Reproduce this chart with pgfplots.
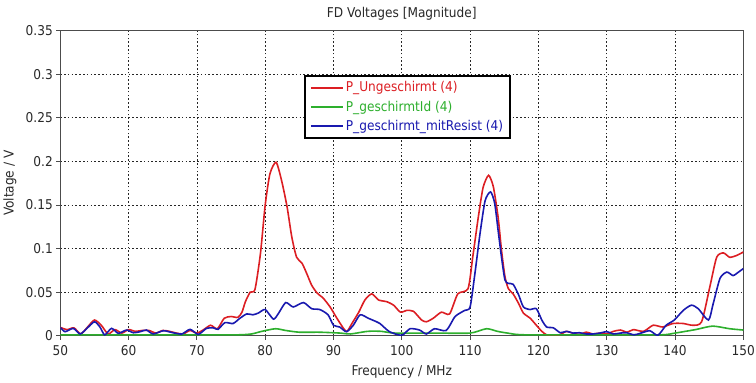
\documentclass[border=0pt]{standalone}
\usepackage{fontspec}
\setmainfont{DejaVu Sans Condensed}
\usepackage{pgfplots}
\pgfplotsset{compat=1.18}
\definecolor{cred}{RGB}{220,30,35}
\definecolor{cgreen}{RGB}{45,175,45}
\definecolor{cblue}{RGB}{25,25,175}
\definecolor{ctext}{RGB}{40,40,40}

\pgfplotstableread{
f v
50 0.0095
51 0.007
52 0.009
53 0.002
54 0.010
55 0.018
56 0.012
57 0.002
58 0.007
59 0.003
60 0.007
61 0.005
62 0.006
63 0.006
64 0.003
65 0.006
66 0.005
67 0.003
68 0.002
69 0.006
70 0.003
71 0.007
72 0.012
73 0.008
74 0.020
75 0.022
76 0.021
76.6 0.027
77.1 0.039
77.8 0.050
78.5 0.053
79.3 0.094
80 0.150
80.7 0.186
81.6 0.199
82.4 0.178
83.2 0.148
83.9 0.113
84.6 0.090
85.4 0.083
86.1 0.071
86.8 0.058
87.6 0.049
88.5 0.043
89.5 0.033
90.5 0.020
91.5 0.008
92 0.005
92.7 0.014
93.7 0.027
94.6 0.041
95.6 0.048
96.6 0.041
97.8 0.039
98.8 0.035
99.8 0.027
100.7 0.029
101.7 0.028
102.9 0.018
103.6 0.016
104.6 0.020
105.8 0.027
107 0.025
108.2 0.048
109.7 0.054
110.4 0.091
111.2 0.136
111.9 0.170
112.7 0.184
113.4 0.171
114.1 0.136
114.6 0.098
115.1 0.068
115.6 0.054
116.3 0.048
117.1 0.037
117.8 0.026
118.8 0.020
119.7 0.012
120.5 0.005
121.2 0.001
122 0.001
123.1 0.001
124.1 0.005
125 0.003
126 0.0015
127 0.004
128 0.002
129 0.003
130 0.002
131 0.005
132 0.0065
133 0.004
133.9 0.007
135.4 0.005
136.8 0.012
138.2 0.010
139.7 0.014
141.2 0.014
142.6 0.012
143.9 0.016
145.1 0.056
146.1 0.090
147.1 0.095
148 0.090
149 0.092
150 0.096
}\redtab

\pgfplotstableread{
f v
50 0.001
60 0.001
70 0.001
76 0.001
78 0.002
79.5 0.005
81.5 0.008
83 0.006
85 0.004
88 0.004
91 0.003
92.5 0.002
95 0.005
97 0.005
99 0.003
105 0.003
110 0.003
112.4 0.008
114 0.005
115.5 0.003
118 0.001
130 0.001
138 0.001
140 0.003
143 0.007
145.5 0.011
148 0.008
150 0.0065
}\greentab

\pgfplotstableread{
f v
50 0.0095
50.7 0.0046
51.9 0.0084
52.9 0.002
53.9 0.0084
55 0.016
55.8 0.010
56.5 0.001
57.5 0.0084
58.5 0.0027
59.7 0.0065
60.7 0.0034
61.7 0.0046
62.6 0.0065
63.6 0.002
65.1 0.0057
66.5 0.0034
67.8 0.002
69 0.0073
70.2 0.0015
71.4 0.0084
72.4 0.009
73.1 0.0073
74.1 0.015
75.3 0.014
76.3 0.020
77.3 0.025
78.2 0.024
79 0.026
80 0.030
81.2 0.019
81.9 0.025
83 0.038
84.1 0.033
85.6 0.038
86.8 0.031
88 0.030
89.2 0.024
90 0.012
90.9 0.010
91.9 0.0046
92.9 0.012
93.9 0.024
95.1 0.020
96.3 0.016
96.8 0.014
98.2 0.0046
100 0.0005
101.2 0.008
102.6 0.0065
103.6 0.002
104.8 0.008
106.5 0.006
107.8 0.022
109.2 0.029
110 0.033
110.7 0.071
111.45 0.117
112.2 0.155
113.0 0.165
113.6 0.152
114.1 0.121
114.6 0.090
115.1 0.064
115.6 0.060
116.3 0.059
117.1 0.047
117.8 0.033
118.8 0.030
119.7 0.031
120.5 0.018
121.2 0.010
122.2 0.009
123.2 0.0034
124.1 0.005
125.1 0.003
126 0.0034
127 0.002
128 0.002
129 0.003
130 0.0046
131 0.002
132 0.003
132.9 0.0034
134 0.001
134.9 0.0027
136.3 0.0057
137.5 0.0005
138.7 0.012
139.9 0.018
141.2 0.029
142.4 0.035
143.4 0.031
144.9 0.018
145.6 0.037
146.6 0.066
147.6 0.073
148.5 0.069
149.3 0.073
150 0.077
}\bluetab

\begin{document}
\begin{tikzpicture}
\begin{axis}[
  at={(60.3pt,47.3pt)}, anchor=south west,
  width=683pt, height=305pt, scale only axis,
  xmin=50, xmax=150, ymin=0, ymax=0.35,
  xtick={50,60,70,80,90,100,110,120,130,140,150},
  ytick={0,0.05,0.1,0.15,0.2,0.25,0.3,0.35},
  yticklabels={0,0.05,0.1,0.15,0.2,0.25,0.3,0.35},
  xticklabels={50,60,70,80,90,100,110,120,130,140,150},
  grid=major,
  major grid style={black!85, line width=0.7pt, dash pattern=on 1.6pt off 2.2pt},
  axis line style={black!70, line width=0.8pt},
  tick align=outside, tick pos=left, major tick length=4pt,
  tick style={black!70, line width=0.8pt},
  ticklabel style={font=\fontsize{13.5}{15}\selectfont, text=ctext},
  xticklabel style={yshift=-2pt},
  xlabel={Frequency / MHz},
  ylabel={Voltage / V},
  xlabel style={at={(axis description cs:0.5,-0.118)}, anchor=center, font=\fontsize{13.5}{15}\selectfont, text=ctext},
  ylabel style={at={(axis description cs:-0.0737,0.5)}, anchor=center, font=\fontsize{13.5}{15}\selectfont, text=ctext},
  legend cell align=left,
  legend image code/.code={\draw[#1, line width=2pt] (0pt,0pt) -- (32pt,0pt);},
  legend style={at={(0.357,0.855)}, anchor=north west, draw=black, line width=1.6pt,
    fill=white, font=\fontsize{13.5}{15}\selectfont, row sep=3.5pt,
    inner xsep=5pt, inner ysep=4pt},
]
\addplot[cred, line width=1.6pt, smooth, tension=0.4] table[x=f,y=v] {\redtab};
\addlegendentry{\textcolor{cred}{P\_Ungeschirmt (4)}}
\addplot[cgreen, line width=1.6pt, smooth, tension=0.4] table[x=f,y=v] {\greentab};
\addlegendentry{\textcolor{cgreen}{P\_geschirmtId (4)}}
\addplot[cblue, line width=1.6pt, smooth, tension=0.4] table[x=f,y=v] {\bluetab};
\addlegendentry{\textcolor{cblue}{P\_geschirmt\_mitResist (4)}}
\end{axis}
\node[font=\fontsize{13.5}{15}\selectfont, text=ctext] at (401.8pt,369pt) {FD Voltages [Magnitude]};
\pgfresetboundingbox
\path[use as bounding box] (0,0) rectangle (756pt,383pt);
\end{tikzpicture}
\end{document}
